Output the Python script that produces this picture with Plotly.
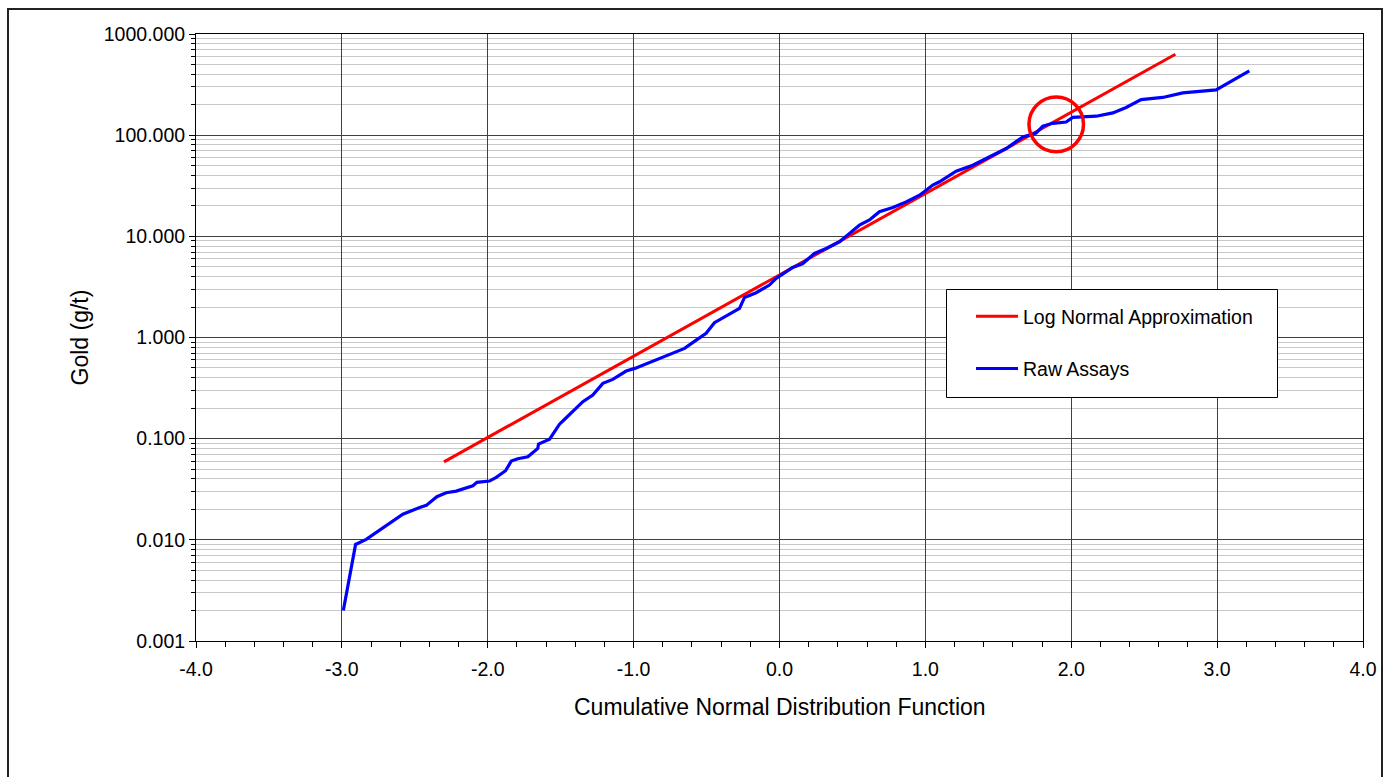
import plotly.graph_objects as go

# ---------------- data ----------------
approx_x = [-2.30, 2.714]
approx_y = [0.059, 631.0]

raw_x = [-2.99, -2.906, -2.833, -2.582, -2.467, -2.421, -2.349, -2.285, -2.216, -2.102,
         -2.074, -1.988, -1.942, -1.878, -1.839, -1.794, -1.725, -1.657, -1.652, -1.576,
         -1.535, -1.508, -1.478, -1.417, -1.348, -1.280, -1.211, -1.143, -1.051, -0.992,
         -0.903, -0.822, -0.731, -0.651, -0.571, -0.503, -0.446, -0.366, -0.274, -0.240,
         -0.160, -0.069, -0.023, 0.011, 0.091, 0.160, 0.240, 0.320, 0.411, 0.480,
         0.548, 0.617, 0.685, 0.777, 0.868, 0.960, 1.051, 1.097, 1.211, 1.325,
         1.439, 1.554, 1.668, 1.759, 1.805, 1.873, 1.965, 2.010, 2.171, 2.285,
         2.376, 2.479, 2.627, 2.764, 2.993, 3.221]
raw_y = [0.0020, 0.0090, 0.0101, 0.0179, 0.0209, 0.0219, 0.0267, 0.0292, 0.0303, 0.0342,
         0.0370, 0.0381, 0.0415, 0.0482, 0.0600, 0.0633, 0.0662, 0.0800, 0.0885, 0.0990,
         0.1216, 0.139, 0.153, 0.185, 0.232, 0.270, 0.352, 0.385, 0.466, 0.495,
         0.555, 0.621, 0.696, 0.780, 0.942, 1.10, 1.40, 1.63, 1.94, 2.49,
         2.77, 3.30, 3.84, 4.14, 4.92, 5.39, 6.78, 7.59, 8.83, 10.7,
         12.9, 14.5, 17.5, 19.3, 21.9, 25.5, 32.1, 34.6, 44.1, 50.5,
         61.1, 73.8, 96.1, 105.0, 123.0, 131.0, 135.0, 150.0, 154.0, 166.0,
         188.0, 225.0, 236.0, 262.0, 280.0, 432.0]

x_ticks = [-4.0, -3.0, -2.0, -1.0, 0.0, 1.0, 2.0, 3.0, 4.0]
x_tick_labels = ["-4.0", "-3.0", "-2.0", "-1.0", "0.0", "1.0", "2.0", "3.0", "4.0"]
y_ticks = [0.001, 0.01, 0.1, 1.0, 10.0, 100.0, 1000.0]
y_tick_labels = ["0.001", "0.010", "0.100", "1.000", "10.000", "100.000", "1000.000"]
minor_multipliers = [2, 3, 4, 5, 6, 7, 8, 9]

# highlight circle (extent in data units)
circle_x = [1.710, 2.084]
circle_y = [68.7, 238.0]

# ---------------- figure ----------------
FONT = "Liberation Sans, Arial, sans-serif"
W, H = 1389, 777
L, R, T, B = 196, 26, 34, 136
PW, PH = W - L - R, H - T - B


def px(xp):
    return (xp - L) / PW


def py(yp):
    return (H - B - yp) / PH


y_minor = [d * m for d in y_ticks[:-1] for m in minor_multipliers]

fig = go.Figure()
fig.add_trace(go.Scatter(x=approx_x, y=approx_y, mode="lines",
                         name="Log Normal Approximation",
                         line=dict(color="#FF0000", width=3), legendgroup="a"))
fig.add_trace(go.Scatter(x=raw_x, y=raw_y, mode="lines", name="Raw Assays",
                         line=dict(color="#0000FF", width=3.2), legendgroup="b"))

fig.update_layout(
    width=W, height=H,
    margin=dict(l=L, r=R, t=T, b=B, autoexpand=False),
    paper_bgcolor="white", plot_bgcolor="white",
    font=dict(family=FONT, color="black", size=19),
    showlegend=True,
    legend=dict(x=px(971), y=py(297), xanchor="left", yanchor="top",
                bgcolor="rgba(0,0,0,0)", borderwidth=0,
                font=dict(size=19.5, family=FONT), traceorder="grouped",
                tracegroupgap=24, itemwidth=42),
    xaxis=dict(range=[-4, 4], tickmode="array", tickvals=x_ticks, ticktext=x_tick_labels,
               showgrid=True, gridcolor="#404040", gridwidth=1,
               showline=True, linecolor="black", linewidth=1, mirror=True,
               ticks="outside", ticklen=6, tickcolor="black", zeroline=False,
               ticklabelstandoff=5,
               tickfont=dict(size=19.5, family=FONT),
               minor=dict(dtick=0.2, ticks="outside", ticklen=5, tickcolor="black",
                          showgrid=False)),
    yaxis=dict(type="log", range=[-3, 3], tickmode="array", tickvals=y_ticks,
               ticktext=y_tick_labels,
               showgrid=True, gridcolor="#404040", gridwidth=1,
               showline=True, linecolor="black", linewidth=1, mirror=True,
               ticks="outside", ticklen=6, tickcolor="black", zeroline=False,
               tickfont=dict(size=19.5, family=FONT),
               minor=dict(tickvals=y_minor, ticks="outside", ticklen=4, tickcolor="black",
                          showgrid=True, gridcolor="#c8c8c8", gridwidth=1)),
)

fig.add_annotation(text="Cumulative Normal Distribution Function", xref="paper", yref="paper",
                   x=0.5, y=py(707), xanchor="center", yanchor="middle",
                   showarrow=False, font=dict(size=23, family=FONT))
fig.add_annotation(text="Gold (g/t)", xref="paper", yref="paper",
                   x=px(79), y=0.5, xanchor="center", yanchor="middle",
                   textangle=-90, showarrow=False, font=dict(size=23, family=FONT))

# red highlight circle
fig.add_shape(type="circle", xref="x", yref="y",
              x0=circle_x[0], x1=circle_x[1], y0=circle_y[0], y1=circle_y[1],
              line=dict(color="#FF0000", width=3.5))

# legend frame
fig.add_shape(type="rect", xref="paper", yref="paper",
              x0=px(946.5), x1=px(1277.5), y0=py(397.5), y1=py(289.5),
              fillcolor="white", line=dict(color="black", width=1), layer="above")

# outer chart border
fig.add_shape(type="rect", xref="paper", yref="paper",
              x0=px(8), x1=px(1382), y0=py(800), y1=py(9),
              line=dict(color="#222222", width=2), layer="below")

fig.write_html("out.html", config={"displayModeBar": False},
               post_script="document.body.style.margin='0px';")
